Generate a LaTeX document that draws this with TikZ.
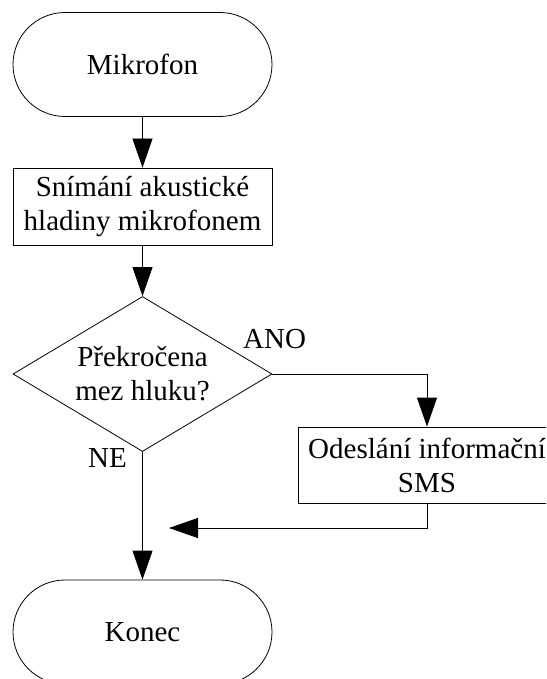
\documentclass[tikz,border=0pt]{standalone}
\usepackage{fontspec}
\setmainfont{Liberation Serif}
\usetikzlibrary{shapes.misc,shapes.geometric,arrows.meta}
\begin{document}
\begin{tikzpicture}[x=1pt,y=-1pt,
  every node/.style={font=\fontsize{29}{34}\selectfont, text=black},
  terminal/.style={draw, rounded rectangle, minimum width=259pt, minimum height=104pt, inner sep=0pt},
  process/.style={draw, rectangle, minimum width=259pt, minimum height=77pt, inner sep=0pt, align=center},
  decision/.style={draw, diamond, aspect=1.67, minimum width=259pt, minimum height=155pt, inner sep=0pt, align=center},
  flow/.style={draw, line width=0.8pt, -{Triangle[length=29pt,width=20pt]}},
  lbl/.style={anchor=base west, inner sep=0pt}
]
  % page area
  \clip (0,0) rectangle (546,679);
  \path[use as bounding box] (0,0) rectangle (546,679);

  % blocks
  \node[terminal, line width=0.8pt] (start) at (142.5,64.5) {Mikrofon};
  \node[process, line width=0.8pt] (sense) at (142.5,206.5) {Snímání akustické\\hladiny mikrofonem};
  \node[decision, line width=0.8pt] (check) at (142.5,374) {Překročena\\mez hluku?};
  \node[process, line width=0.8pt, minimum width=258pt, minimum height=76pt] (sms) at (427,465) {Odeslání informační\\SMS};
  \node[terminal, line width=0.8pt] (stop) at (142.5,632) {Konec};

  % free end of the return line
  \coordinate (join) at (169,528);

  % connectors
  \draw[flow] (start.south) -- (sense.north);
  \draw[flow] (sense.south) -- (check.north);
  \draw[flow] (check.east) -| (sms.north);
  \draw[flow] (sms.south) |- (join);
  \draw[flow] (check.south) -- (stop.north);

  % branch labels
  \node[lbl] (yes) at (243,348) {ANO};
  \node[lbl] (no) at (88,467) {NE};
\end{tikzpicture}
\end{document}
